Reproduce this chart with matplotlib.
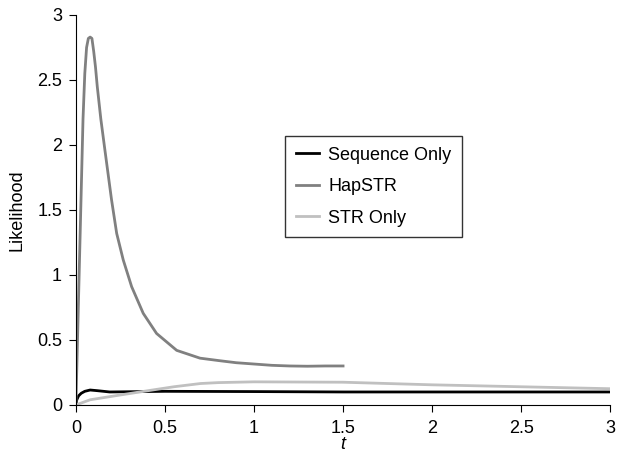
import matplotlib
matplotlib.use("Agg")
import matplotlib.pyplot as plt

plt.rcParams['font.family'] = ['Liberation Sans', 'DejaVu Sans']

hap_t = [0, 0.01, 0.02, 0.03, 0.04, 0.05, 0.06, 0.07, 0.08, 0.09, 0.10, 0.11, 0.12, 0.14,
         0.163, 0.20, 0.229, 0.266, 0.313, 0.378, 0.453, 0.566, 0.697, 0.81, 0.9, 1.0,
         1.1, 1.2, 1.3, 1.4, 1.5]
hap_v = [0, 0.55, 1.1, 1.65, 2.2, 2.55, 2.75, 2.82, 2.83, 2.82, 2.72, 2.6, 2.45, 2.2,
         1.96, 1.58, 1.32, 1.115, 0.91, 0.705, 0.55, 0.42, 0.36, 0.34, 0.325, 0.315,
         0.305, 0.30, 0.298, 0.30, 0.30]

seq_t = [0, 0.005, 0.015, 0.03, 0.05, 0.08, 0.12, 0.19, 0.5, 1.0, 1.5, 2.0, 2.5, 3.0]
seq_v = [0, 0.04, 0.07, 0.09, 0.105, 0.115, 0.11, 0.10, 0.105, 0.103, 0.10, 0.10, 0.10, 0.10]

str_t = [0, 0.08, 0.25, 0.43, 0.55, 0.70, 0.8, 1.0, 1.5, 2.0, 2.5, 3.0]
str_v = [0, 0.04, 0.077, 0.115, 0.14, 0.165, 0.172, 0.178, 0.175, 0.155, 0.14, 0.125]

fig = plt.figure(figsize=(6.17, 4.54), dpi=100)
ax = fig.add_axes([0.123, 0.108, 0.866, 0.859])

ax.plot(seq_t, seq_v, color='black', lw=2.0, label='Sequence Only')
ax.plot(hap_t, hap_v, color='#808080', lw=2.0, label='HapSTR')
ax.plot(str_t, str_v, color='#c0c0c0', lw=2.0, label='STR Only')

ax.set_xlim(0, 3)
ax.set_ylim(0, 3)
ticks = [0, 0.5, 1, 1.5, 2, 2.5, 3]
labels = ['0', '0.5', '1', '1.5', '2', '2.5', '3']
ax.set_xticks(ticks)
ax.set_xticklabels(labels)
ax.set_yticks(ticks)
ax.set_yticklabels(labels)
ax.spines['top'].set_visible(False)
ax.spines['right'].set_visible(False)
ax.tick_params(direction='out', length=5, labelsize=13, pad=5)
ax.tick_params(axis='x', pad=6)
ax.set_xlabel('t', fontsize=13, style='italic', labelpad=-1)
ax.set_ylabel('Likelihood', fontsize=13, labelpad=8)

leg = ax.legend(loc='upper left', bbox_to_anchor=(0.391, 0.69), fontsize=13,
                frameon=True, fancybox=False, edgecolor='black', handlelength=1.3,
                handletextpad=0.5, labelspacing=0.8, borderpad=0.6, borderaxespad=0)
leg.get_frame().set_linewidth(1.0)

fig.savefig('out.png', dpi=100)
